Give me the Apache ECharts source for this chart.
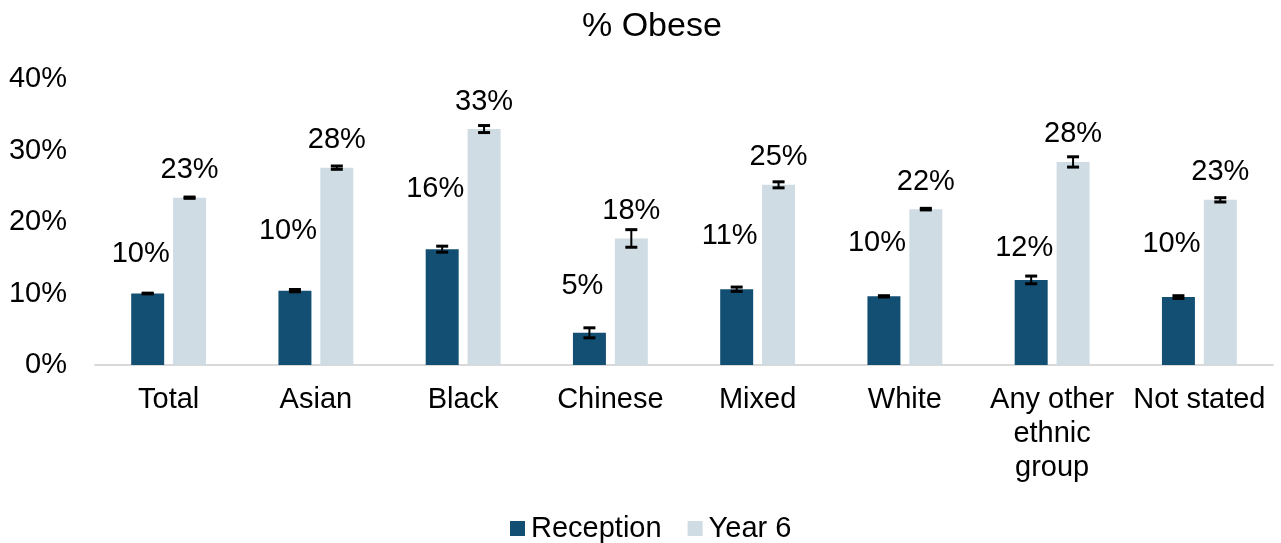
<!DOCTYPE html>
<html>
<head>
<meta charset="utf-8">
<script src="https://cdn.jsdelivr.net/npm/echarts@6/dist/echarts.min.js"></script>
<style>
  html, body { margin: 0; padding: 0; background: #fff; }
  #chart { width: 1281px; height: 543px; }
</style>
</head>
<body>
<div id="chart"></div>
<script>
// 类别
var acCategory = ['Total', 'Asian', 'Black', 'Chinese', 'Mixed', 'White', 'Any other\nethnic\ngroup', 'Not stated'];
// 接待班 / 六年级 肥胖率 (%)
var adReception = [10.0, 10.4, 16.2, 4.5, 10.6, 9.6, 11.9, 9.5];
var adYear6 = [23.4, 27.6, 33.0, 17.7, 25.2, 21.8, 28.4, 23.1];
// 置信区间半宽 (%)
var adReceptionErr = [0.05, 0.16, 0.42, 0.7, 0.3, 0.09, 0.54, 0.19];
var adYear6Err = [0.09, 0.23, 0.49, 1.23, 0.42, 0.11, 0.72, 0.3];
// y 轴刻度
var adTicks = [0, 10, 20, 30, 40];

var cFont = 'Liberation Sans, Arial, sans-serif';
var dFont = 29;
var dBarRatio = 0.224, dGapRatio = 0.27;
// 接待班标签的上移量 (px)，原图里标签位置不一
var adReceptionLift = [40, 60, 61, 47, 54, 54, 32, 54];

function getErrSeries(name, adVal, adErr, iSide) {
    var aoData = [];
    for (var i = 0; i < adVal.length; i++) {
        aoData.push([i, adVal[i] - adErr[i], adVal[i] + adErr[i]]);
    }
    return {
        name: name + ' err',
        type: 'custom',
        z: 10,
        silent: true,
        data: aoData,
        renderItem: function (params, api) {
            var dBand = api.size([1, 0])[0];
            var dBar = dBand * dBarRatio;
            var dOff = iSide * dBar * (1 + dGapRatio) / 2;
            var oLow = api.coord([api.value(0), api.value(1)]);
            var oHigh = api.coord([api.value(0), api.value(2)]);
            var x = oLow[0] + dOff;
            var dCap = 6;
            var oStem = { stroke: '#000', lineWidth: 2, fill: null };
            var oCap = { stroke: '#000', lineWidth: 3, fill: null };
            return {
                type: 'group',
                children: [
                    { type: 'line', shape: { x1: x, y1: oLow[1], x2: x, y2: oHigh[1] }, style: oStem },
                    { type: 'line', shape: { x1: x - dCap, y1: oLow[1], x2: x + dCap, y2: oLow[1] }, style: oCap },
                    { type: 'line', shape: { x1: x - dCap, y1: oHigh[1], x2: x + dCap, y2: oHigh[1] }, style: oCap }
                ]
            };
        }
    };
}

var aoReceptionData = adReception.map(function (v, i) {
    return {
        value: v,
        label: { offset: [-7, -(adReceptionLift[i] - 28)] }
    };
});

var oLabel = {
    show: true,
    position: 'top',
    distance: 13,
    color: '#000',
    fontSize: dFont,
    fontFamily: cFont,
    formatter: function (p) { return Math.round(p.value) + '%'; }
};

var oOption = {
    animation: false,
    backgroundColor: '#fff',
    title: {
        text: '% Obese',
        left: 577,
        top: 5,
        textStyle: { fontSize: 34, fontWeight: 'normal', color: '#000', fontFamily: cFont }
    },
    legend: {
        data: ['Reception', 'Year 6'],
        left: 505,
        top: 509,
        itemWidth: 15,
        itemHeight: 15,
        itemGap: 26,
        icon: 'rect',
        textStyle: { fontSize: dFont, color: '#000', fontFamily: cFont, padding: [0, 0, 0, 1] }
    },
    grid: {
        left: 95,
        right: 8,
        top: 79,
        bottom: 178,
        containLabel: false
    },
    xAxis: {
        type: 'category',
        data: acCategory,
        axisLine: { lineStyle: { color: '#d9d9d9', width: 2 } },
        axisTick: { show: false },
        axisLabel: {
            interval: 0,
            margin: 18,
            fontSize: dFont,
            lineHeight: 34,
            color: '#000',
            fontFamily: cFont
        }
    },
    yAxis: {
        type: 'value',
        min: adTicks[0],
        max: adTicks[adTicks.length - 1],
        interval: 10,
        splitLine: { show: false },
        axisLine: { show: false },
        axisTick: { show: false },
        axisLabel: {
            margin: 28,
            fontSize: dFont,
            color: '#000',
            fontFamily: cFont,
            formatter: '{value}%'
        }
    },
    series: [
        {
            name: 'Reception',
            type: 'bar',
            barWidth: (dBarRatio * 100) + '%',
            barGap: (dGapRatio * 100) + '%',
            itemStyle: { color: '#134f73' },
            label: oLabel,
            data: aoReceptionData
        },
        {
            name: 'Year 6',
            type: 'bar',
            barWidth: (dBarRatio * 100) + '%',
            barGap: (dGapRatio * 100) + '%',
            itemStyle: { color: '#cfdce4' },
            label: oLabel,
            data: adYear6
        },
        getErrSeries('Reception', adReception, adReceptionErr, -1),
        getErrSeries('Year 6', adYear6, adYear6Err, 1)
    ]
};

var oChart = echarts.init(document.getElementById('chart'));
oChart.setOption(oOption);
</script>
</body>
</html>
